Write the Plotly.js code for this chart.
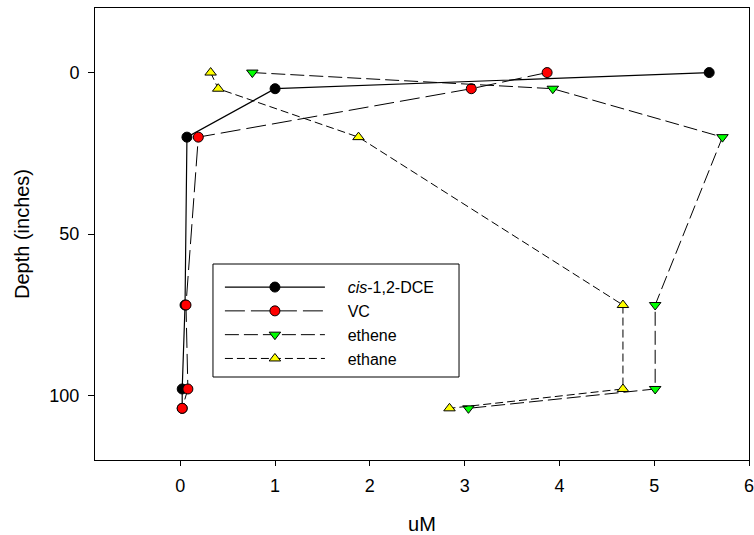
<!DOCTYPE html>
<html>
<head>
<meta charset="utf-8">
<script src="https://cdn.plot.ly/plotly-3.0.1.min.js"></script>
<style>html,body{margin:0;padding:0;background:#fff;}#chart{width:754px;height:535px;}</style>
</head>
<body>
<div id="chart"></div>
<script>
// Data
const depth = [0, 5, 20, 72, 98, 104];
const cisDCE = [5.58, 1.0, 0.07, 0.05, 0.02, 0.02];
const vc = [3.87, 3.07, 0.19, 0.06, 0.08, 0.02];
const ethene = [0.76, 3.93, 5.72, 5.01, 5.01, 3.04];
const ethane = [0.32, 0.40, 1.88, 4.67, 4.67, 2.84];
const seriesNames = ["<i>cis</i>-1,2-DCE", "VC", "ethene", "ethane"];
const xTicks = [0, 1, 2, 3, 4, 5, 6];
const yTicks = [0, 50, 100];

const pad = "\u00a0\u00a0\u00a0\u00a0";
const mk = (sym, col) => ({symbol: sym, size: 10, color: col, line: {color: "#000", width: 1}});
const traces = [
  {x: cisDCE, y: depth, name: pad + seriesNames[0], mode: "lines+markers", line: {color: "#000", width: 1.2}, marker: mk("circle", "#000")},
  {x: vc, y: depth, name: pad + seriesNames[1], mode: "lines+markers", line: {color: "#000", width: 1, dash: "20px,6px"}, marker: mk("circle", "#ff0000")},
  {x: ethene, y: depth, name: pad + seriesNames[2], mode: "lines+markers", line: {color: "#000", width: 1, dash: "14px,5px"}, marker: mk("triangle-down", "#00ff00")},
  {x: ethane, y: depth, name: pad + seriesNames[3], mode: "lines+markers", line: {color: "#000", width: 1, dash: "8px,4px"}, marker: mk("triangle-up", "#ffff00")}
].map(t => Object.assign(t, {type: "scatter", cliponaxis: false}));

const font = {family: "Liberation Sans, Arial, sans-serif", color: "#000"};
const layout = {
  width: 754, height: 535,
  margin: {l: 95, r: 5, t: 8, b: 75},
  paper_bgcolor: "#fff", plot_bgcolor: "#fff",
  font: Object.assign({size: 14}, font),
  showlegend: true,
  legend: {
    x: 0.191, y: 0.42, xanchor: "left", yanchor: "top",
    bgcolor: "rgba(0,0,0,0)", borderwidth: 0,
    itemwidth: 100, font: Object.assign({size: 16}, font),
    tracegroupgap: 0
  },
  shapes: [{
    type: "rect", xref: "paper", yref: "paper",
    x0: 0.1804, x1: 0.5566, y0: 0.1836, y1: 0.4336,
    line: {color: "#000", width: 1}, fillcolor: "#fff", layer: "above"
  }],
  xaxis: {
    range: [-0.9, 6], tickvals: xTicks, ticks: "outside", ticklen: 5, tickcolor: "#000",
    showline: true, linecolor: "#000", linewidth: 1, mirror: true,
    showgrid: false, zeroline: false, tickfont: Object.assign({size: 18}, font),
    ticklabelstandoff: 4, ticklabeloverflow: "allow",
    title: {text: "uM", font: Object.assign({size: 20}, font), standoff: 27}
  },
  yaxis: {
    range: [120, -20], tickvals: yTicks, ticks: "outside", ticklen: 6, tickcolor: "#000",
    showline: true, linecolor: "#000", linewidth: 1, mirror: true,
    showgrid: false, zeroline: false, tickfont: Object.assign({size: 18}, font),
    ticklabelstandoff: 5,
    title: {text: "Depth (inches)", font: Object.assign({size: 20}, font), standoff: 14}
  }
};
Plotly.newPlot("chart", traces, layout, {displayModeBar: false, staticPlot: true});
</script>
</body>
</html>
